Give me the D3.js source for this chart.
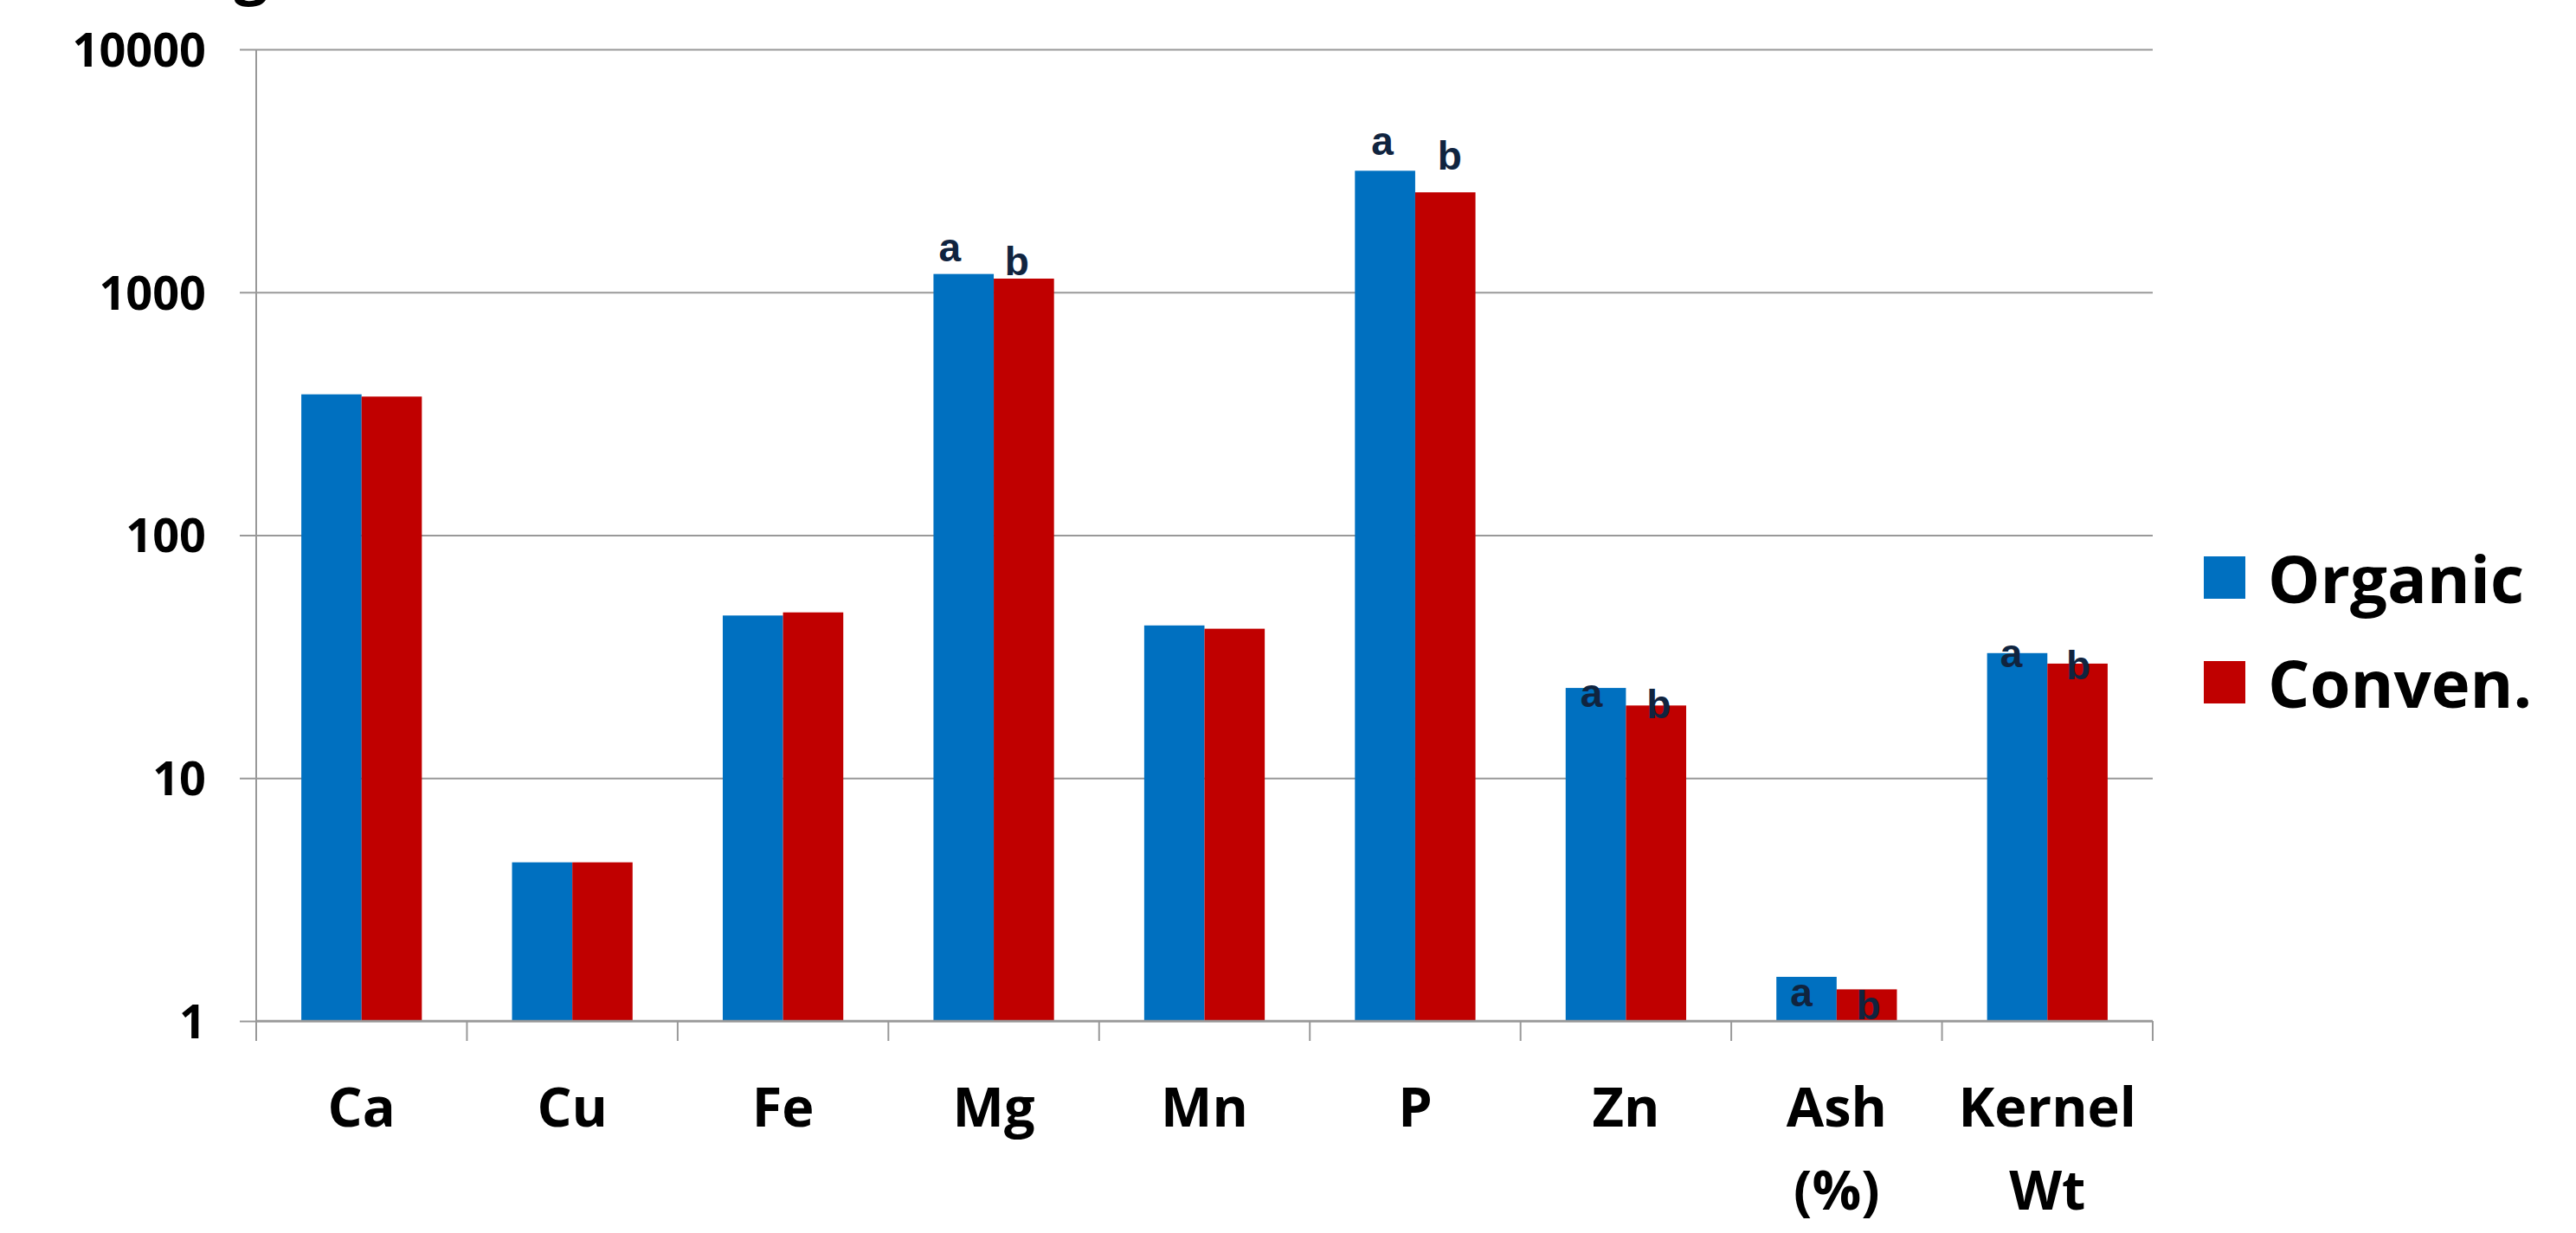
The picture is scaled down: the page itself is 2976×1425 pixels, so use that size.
<!DOCTYPE html>
<html>
<head>
<meta charset="utf-8">
<script src="https://cdn.jsdelivr.net/npm/d3@7"></script>
<style>
  html, body { margin: 0; padding: 0; background: #ffffff; }
  svg { display: block; }
</style>
</head>
<body>
<svg id="chart" width="2976" height="1425"></svg>
<script>
// ---- data ----
const categories = ["Ca", "Cu", "Fe", "Mg", "Mn", "P", "Zn", "Ash (%)", "Kernel Wt"];
const seriesNames = ["Organic", "Conven."];
const organic = [380, 4.5, 46.7, 1189, 42.5, 3163, 23.5, 1.52, 32.7];
const conven  = [372, 4.5, 48.1, 1138, 41.2, 2578, 19.9, 1.35, 29.6];
const organicSig = ["", "", "", "a", "", "a", "a", "a", "a"];
const convenSig  = ["", "", "", "b", "", "b", "b", "b", "b"];
const yTicks = [1, 10, 100, 1000, 10000];

// ---- layout (not data) ----
const plotLeft = 296, plotRight = 2487, plotTop = 57, plotBottom = 1180;
const colors = ["#0070C0", "#C00000"];
// [dx, dy] nudges of significance letters relative to bar center / bar top
const sigNudge = [
  [[0,0],[0,0]], [[0,0],[0,0]], [[0,0],[0,0]],
  [[-16,-15],[-8,-4]],
  [[0,0],[0,0]],
  [[-3,-18],[5,-26]],
  [[-5,22],[3,15]],
  [[-6,34],[2,35]],
  [[-7,16],[1,18]]
];

const svg = d3.select("#chart");

const x0 = d3.scaleBand().domain(categories).range([plotLeft, plotRight])
  .paddingInner(0.428).paddingOuter(0.214);
const x1 = d3.scaleBand().domain(seriesNames).range([0, x0.bandwidth()]).padding(0);
const y = d3.scaleLog().domain([1, 10000]).range([plotBottom, plotTop]);

// clipped title remnant at the very top (as in the reference)
svg.append("text")
  .attr("x", 290).attr("y", -9)
  .attr("text-anchor", "middle")
  .style("font-family", "'Open Sans', 'Noto Sans', sans-serif")
  .style("font-weight", 700).style("font-size", "70px")
  .text("g");

// y axis with gridlines
const yAxis = d3.axisLeft(y).tickValues(yTicks).tickFormat(d3.format("d"));
const gy = svg.append("g").attr("transform", `translate(${plotLeft},0)`).call(yAxis);
gy.select(".domain").remove();
gy.selectAll(".tick line")
  .attr("x1", -19).attr("x2", plotRight - plotLeft)
  .attr("stroke", "#999999").attr("stroke-width", 2);
gy.selectAll(".tick text")
  .attr("x", -58).attr("dy", "0.36em")
  .style("font-family", "'Open Sans', 'Noto Sans', sans-serif")
  .style("font-weight", 700).style("font-size", "54px")
  .attr("fill", "#000");

// vertical axis line
svg.append("line")
  .attr("x1", plotLeft).attr("x2", plotLeft).attr("y1", plotTop).attr("y2", plotBottom + 23)
  .attr("stroke", "#999999").attr("stroke-width", 2);

// bars
const data = categories.map((c, i) => ({ cat: c, vals: [organic[i], conven[i]], sig: [organicSig[i], convenSig[i]], idx: i }));
const groups = svg.append("g").selectAll("g").data(data).join("g")
  .attr("transform", d => `translate(${x0(d.cat)},0)`);
groups.selectAll("rect").data(d => d.vals.map((v, j) => ({ v, j, name: seriesNames[j] })))
  .join("rect")
  .attr("x", d => x1(d.name))
  .attr("width", x1.bandwidth())
  .attr("y", d => y(d.v))
  .attr("height", d => plotBottom - y(d.v))
  .attr("fill", d => colors[d.j]);

// x axis baseline and ticks at band boundaries
svg.append("line")
  .attr("x1", plotLeft).attr("x2", plotRight).attr("y1", plotBottom).attr("y2", plotBottom)
  .attr("stroke", "#999999").attr("stroke-width", 2.5);
const step = x0.step();
const bounds = d3.range(categories.length + 1).map(i => x0(categories[0]) - x0.paddingOuter() * step + i * step);
svg.append("g").selectAll("line").data(bounds).join("line")
  .attr("x1", d => d).attr("x2", d => d)
  .attr("y1", plotBottom).attr("y2", plotBottom + 23)
  .attr("stroke", "#999999").attr("stroke-width", 2);

// significance letters
groups.each(function(d) {
  d3.select(this).selectAll("text.sig").data(d.sig.map((s, j) => ({ s, j, v: d.vals[j], nudge: sigNudge[d.idx][j] })).filter(e => e.s))
    .join("text").attr("class", "sig")
    .attr("x", e => x1(seriesNames[e.j]) + x1.bandwidth() / 2 + e.nudge[0])
    .attr("y", e => y(e.v) + e.nudge[1])
    .attr("text-anchor", "middle")
    .style("font-family", "'Liberation Sans', Arial, sans-serif")
    .style("font-weight", 700).style("font-size", "46px")
    .attr("fill", "#10243f")
    .text(e => e.s);
});

// category labels (wrapped)
const catLabels = svg.append("g").selectAll("text").data(categories).join("text")
  .attr("x", d => x0(d) + x0.bandwidth() / 2)
  .attr("y", 1302)
  .attr("text-anchor", "middle")
  .style("font-family", "'Open Sans', 'Noto Sans', sans-serif")
  .style("font-weight", 700).style("font-size", "63px")
  .attr("fill", "#000");
catLabels.each(function(d) {
  const parts = d.split(" ");
  const t = d3.select(this);
  parts.forEach((p, k) => {
    t.append("tspan").attr("x", x0(d) + x0.bandwidth() / 2).attr("dy", k === 0 ? 0 : 96).text(p);
  });
});

// legend
const legend = svg.append("g").selectAll("g").data(seriesNames).join("g")
  .attr("transform", (d, i) => `translate(2546,${643 + i * 121})`);
legend.append("rect").attr("width", 48).attr("height", 49).attr("fill", (d, i) => colors[i]);
legend.append("text")
  .attr("x", 74).attr("y", 54)
  .style("font-family", "'Open Sans', 'Noto Sans', sans-serif")
  .style("font-weight", 700).style("font-size", "76px")
  .attr("fill", "#000")
  .text(d => d);
</script>
</body>
</html>
